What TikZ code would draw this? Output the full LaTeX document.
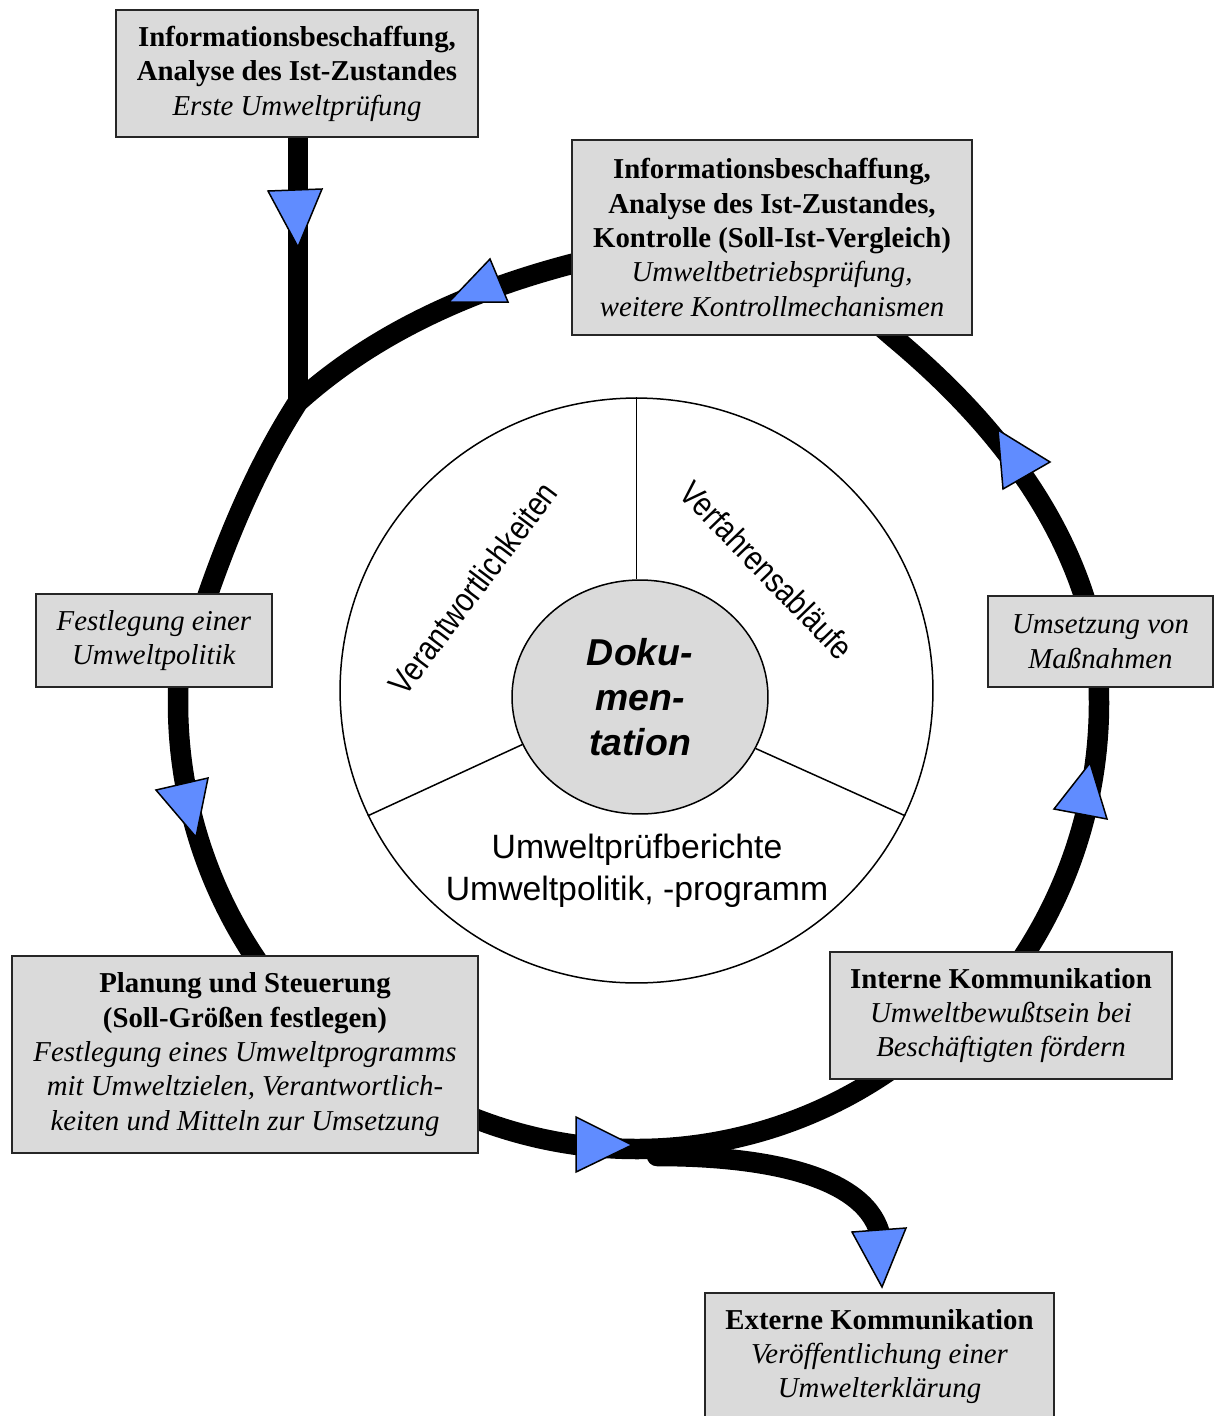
\documentclass[tikz,border=0pt]{standalone}
\usepackage{fontspec}
\setmainfont{Liberation Serif}
\newfontfamily\arialfont{Liberation Sans}
\usetikzlibrary{shapes.geometric,calc,backgrounds}
\definecolor{boxgray}{RGB}{218,218,218}
\definecolor{arrowblue}{RGB}{96,140,255}
\begin{document}
\begin{tikzpicture}[x=0.02cm,y=-0.02cm,
  box/.style={draw=black!85, line width=0.03cm, fill=boxgray, rectangle, align=center, inner sep=0pt, font=\fontsize{16.4}{19.6}\selectfont},
  ring/.style={draw=black, line width=0.41cm},
  tri/.style={fill=arrowblue, draw=black, line width=0.03cm, line join=miter},
  thinline/.style={draw=black, line width=0.03cm},
  sanslabel/.style={font=\arialfont\fontsize{19.3}{22}\selectfont, inner sep=0pt}]
\useasboundingbox (0,0) rectangle (1214,1416);

% ---------- inner diagram ----------
\node[ellipse, thinline, minimum width=11.86cm, minimum height=11.7cm, inner sep=0pt] (outer) at (636.5,690.5) {};
\node[ellipse, thinline, fill=boxgray, minimum width=5.12cm, minimum height=4.68cm, inner sep=0pt, align=center,
      font=\arialfont\bfseries\itshape\fontsize{21.3}{25.5}\selectfont] (doc) at (640,697) {Doku-\\men-\\tation};
\draw[thinline] (outer.north) -- (outer.north |- doc.north);
\draw[thinline] (outer.205) -- (doc.202);
\draw[thinline] (outer.335) -- (doc.336);
\node[sanslabel, rotate=53] (verant) at (473,588) {\scalebox{0.84}[1]{Verantwortlichkeiten}};
\node[sanslabel, rotate=-46] (verf) at (767,570) {\scalebox{0.84}[1]{Verfahrensabläufe}};
\node[inner sep=0pt, align=center, font=\arialfont\fontsize{19.2}{23.8}\selectfont] (umwb) at (637,871) {Umweltprüfberichte\\Umweltpolitik, -programm};

% ---------- boxes ----------
\node[box, minimum width=7.24cm, minimum height=2.54cm] (info1) at (297,73.5)
  {\textbf{Informationsbeschaffung,}\\ \textbf{Analyse des Ist-Zustandes}\\ \textit{Erste Umweltprüfung}};
\node[box, minimum width=8cm, minimum height=3.9cm] (info2) at (772,237.5)
  {\textbf{Informationsbeschaffung,}\\ \textbf{Analyse des Ist-Zustandes,}\\ \textbf{Kontrolle (Soll-Ist-Vergleich)}\\ \textit{Umweltbetriebsprüfung,}\\ \textit{weitere Kontrollmechanismen}};
\node[box, minimum width=4.72cm, minimum height=1.86cm] (fest) at (154,640.5)
  {\textit{Festlegung einer}\\ \textit{Umweltpolitik}};
\node[box, minimum width=4.5cm, minimum height=1.82cm] (ums) at (1100.5,641.5)
  {\textit{Umsetzung von}\\ \textit{Maßnahmen}};
\node[box, minimum width=9.32cm, minimum height=3.94cm] (plan) at (245,1054.5)
  {\textbf{Planung und Steuerung}\\ \textbf{(Soll-Größen festlegen)}\\ \textit{Festlegung eines Umweltprogramms}\\ \textit{mit Umweltzielen, Verantwortlich-}\\ \textit{keiten und Mitteln zur Umsetzung}};
\node[box, minimum width=6.84cm, minimum height=2.54cm] (intern) at (1001,1015.5)
  {\textbf{Interne Kommunikation}\\ \textit{Umweltbewußtsein bei}\\ \textit{Beschäftigten fördern}};
\node[box, minimum width=6.98cm, minimum height=2.54cm] (extern) at (879.5,1356.5)
  {\textbf{Externe Kommunikation}\\ \textit{Veröffentlichung einer}\\ \textit{Umwelterklärung}};

% ---------- ring connectors (behind the boxes) ----------
\begin{scope}[on background layer]
  \coordinate (ctr) at (637,703);
  \coordinate (join) at (298,402);
  \draw[ring] (info1.south -| join) -- ($(join)+(0,4)$);
  % top: Informationsbeschaffung -> junction -> Festlegung
  \draw[ring, line join=round] (600,257) .. controls (489.5,282.5) and (382.3,326.1) .. (join)
        .. controls (253,472) and (221.6,551) .. (196,630);
  % left: Festlegung -> Planung
  \draw[ring] ($(ctr)+(186:459)$) arc[start angle=186, end angle=142, radius=459];
  % bottom: Planung -> Interne Kommunikation
  \draw[ring] ($(ctr)+(114:446)$) arc[start angle=114, end angle=54, radius=446];
  % right lower: Interne Kommunikation -> Umsetzung
  \draw[ring] ($(ctr)+(36:462)$) arc[start angle=36, end angle=-6, radius=462];
  % right upper: Umsetzung -> Informationsbeschaffung
  \draw[ring, line join=round] (1089,612) -- (1084,596) .. controls (1050,492) and (977,407) .. (893,337) -- (878,324);
  % branch to Externe Kommunikation
  \draw[ring, line cap=round] (657,1156) .. controls (790,1156) and (882,1185) .. (882,1250);
\end{scope}

% ---------- arrowheads ----------
\filldraw[tri] (268,191) -- (322,189) -- (298,247) -- cycle;
\filldraw[tri] (490,259) -- (508,302) -- (449,302) -- cycle;
\filldraw[tri] (998,430) -- (1050,462) -- (1003,489) -- cycle;
\filldraw[tri] (1090,763) -- (1107,819) -- (1054,809) -- cycle;
\filldraw[tri] (156,790) -- (208,778) -- (196,837) -- cycle;
\filldraw[tri] (576,1117) -- (632,1145) -- (576,1172) -- cycle;
\filldraw[tri] (852,1232) -- (906,1228) -- (882,1287) -- cycle;
\end{tikzpicture}
\end{document}
